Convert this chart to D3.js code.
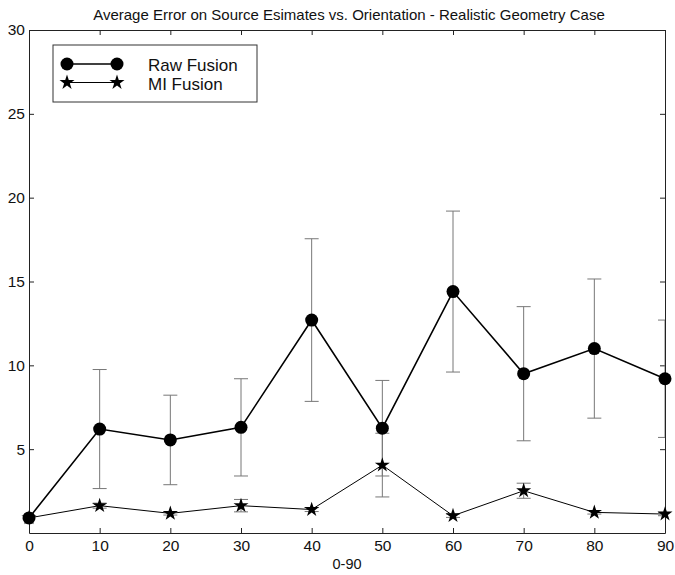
<!DOCTYPE html>
<html>
<head>
<meta charset="utf-8">
<script src="https://cdn.jsdelivr.net/npm/d3@7"></script>
<style>
  body { margin: 0; background: #fff; }
  text { font-family: "Liberation Sans", Arial, sans-serif; fill: #111; }
</style>
</head>
<body>
<svg id="vis-svg"></svg>
<script>
// Data
const angles = [0, 10, 20, 30, 40, 50, 60, 70, 80, 90];
const rawFusion = [0.9, 6.2, 5.55, 6.3, 12.7, 6.25, 14.4, 9.5, 11.0, 9.2];
const rawErr = [0, 3.55, 2.67, 2.9, 4.85, 2.85, 4.8, 4.0, 4.15, 3.5];
const miFusion = [0.9, 1.63, 1.17, 1.63, 1.4, 4.05, 1.03, 2.52, 1.23, 1.13];
const miErr = [0, 0.15, 0.1, 0.37, 0.12, 1.9, 0.1, 0.45, 0.1, 0.1];
const xTicks = [0, 10, 20, 30, 40, 50, 60, 70, 80, 90];
const yTicks = [5, 10, 15, 20, 25, 30];

const titleText = "Average Error on Source Esimates vs. Orientation - Realistic Geometry Case";
const xLabelText = "0-90";

let margin = { top: 30, right: 10, bottom: 42, left: 29 },
    width = 675 - margin.left - margin.right,
    height = 575 - margin.top - margin.bottom;

const x = d3.scaleLinear().domain([0, 90]).range([0, width]),
    y = d3.scaleLinear().domain([0, 30]).range([height, 0]);

const svg = d3.select("#vis-svg")
    .attr("width", 675)
    .attr("height", 575)
    .append("g")
    .attr("transform", "translate(" + margin.left + "," + margin.top + ")");

// clip marks to the axes box
svg.append("clipPath").attr("id", "plot-clip")
    .append("rect").attr("width", width).attr("height", height);

// Title
svg.append("text")
    .attr("x", width / 2 + 2)
    .attr("y", -10)
    .attr("text-anchor", "middle")
    .style("font-size", "15px")
    .text(titleText);

// Axes, ticks inward on all four sides (matlab style)
const tickLen = 5;
svg.append("g")
    .attr("transform", "translate(0," + height + ")")
    .call(d3.axisBottom(x).tickValues(xTicks).tickSizeInner(-tickLen).tickSizeOuter(0).tickPadding(7))
    .call(g => g.selectAll("text").style("font-size", "15.5px"));

svg.append("g")
    .call(d3.axisTop(x).tickValues(xTicks).tickSizeInner(-tickLen).tickSizeOuter(0).tickFormat(""));

svg.append("g")
    .call(d3.axisLeft(y).tickValues(yTicks).tickSizeInner(-tickLen).tickSizeOuter(0).tickPadding(4))
    .call(g => g.selectAll("text").style("font-size", "15.5px"));

svg.append("g")
    .attr("transform", "translate(" + width + ",0)")
    .call(d3.axisRight(y).tickValues(yTicks).tickSizeInner(-tickLen).tickSizeOuter(0).tickFormat(""));

svg.selectAll(".domain, .tick line").attr("stroke", "#222");

// x axis label
svg.append("text")
    .attr("x", x(45))
    .attr("y", height + 36)
    .attr("text-anchor", "middle")
    .style("font-size", "14.5px")
    .text(xLabelText);

const plot = svg.append("g").attr("clip-path", "url(#plot-clip)");

// Error bars
function errorBars(vals, errs, cls) {
    const d = angles.map((a, i) => ({ a: a, v: vals[i], e: errs[i] })).filter(d => d.e > 0);
    const g = plot.append("g").attr("class", cls)
        .attr("stroke", "#777").attr("stroke-width", 1);
    g.selectAll("line.v").data(d).enter().append("line")
        .attr("x1", d => x(d.a)).attr("x2", d => x(d.a))
        .attr("y1", d => y(d.v + d.e)).attr("y2", d => y(d.v - d.e));
    [1, -1].forEach(s => {
        g.selectAll("line.c" + s).data(d).enter().append("line")
            .attr("x1", d => x(d.a) - 7).attr("x2", d => x(d.a) + 7)
            .attr("y1", d => y(d.v + s * d.e)).attr("y2", d => y(d.v + s * d.e));
    });
}
errorBars(rawFusion, rawErr, "raw-err");
errorBars(miFusion, miErr, "mi-err");

const line = d3.line().x(d => x(d[0])).y(d => y(d[1]));

// Raw fusion
svg.append("path")
    .datum(angles.map((a, i) => [a, rawFusion[i]]))
    .attr("fill", "none")
    .attr("stroke", "#000")
    .attr("stroke-width", 1.6)
    .attr("d", line);

svg.selectAll(".raw-dot")
    .data(angles.map((a, i) => [a, rawFusion[i]]))
    .enter().append("circle")
    .attr("cx", d => x(d[0]))
    .attr("cy", d => y(d[1]))
    .attr("r", 6.5)
    .attr("fill", "#000");

// MI fusion
svg.append("path")
    .datum(angles.map((a, i) => [a, miFusion[i]]))
    .attr("fill", "none")
    .attr("stroke", "#000")
    .attr("stroke-width", 1)
    .attr("d", line);

const star = d3.symbol().type(d3.symbolStar).size(70);
svg.selectAll(".mi-star")
    .data(angles.map((a, i) => [a, miFusion[i]]))
    .enter().append("path")
    .attr("d", star)
    .attr("transform", d => "translate(" + x(d[0]) + "," + y(d[1]) + ")")
    .attr("fill", "#000");

// Legend
const legend = svg.append("g").attr("transform", "translate(24,15)");
legend.append("rect")
    .attr("width", 204).attr("height", 57)
    .attr("fill", "#fff").attr("stroke", "#333").attr("stroke-width", 1);

legend.append("line").attr("x1", 14).attr("x2", 64).attr("y1", 19).attr("y2", 19)
    .attr("stroke", "#000").attr("stroke-width", 1.6);
legend.selectAll(".lg-dot").data([14, 64]).enter().append("circle")
    .attr("cx", d => d).attr("cy", 19).attr("r", 6.5).attr("fill", "#000");
legend.append("text").attr("x", 95).attr("y", 25.5).style("font-size", "17px").text("Raw Fusion");

legend.append("line").attr("x1", 14).attr("x2", 64).attr("y1", 37.5).attr("y2", 37.5)
    .attr("stroke", "#000").attr("stroke-width", 1);
legend.selectAll(".lg-star").data([14, 64]).enter().append("path")
    .attr("d", star)
    .attr("transform", d => "translate(" + d + ",37.5)")
    .attr("fill", "#000");
legend.append("text").attr("x", 95).attr("y", 45).style("font-size", "17px").text("MI Fusion");
</script>
</body>
</html>
